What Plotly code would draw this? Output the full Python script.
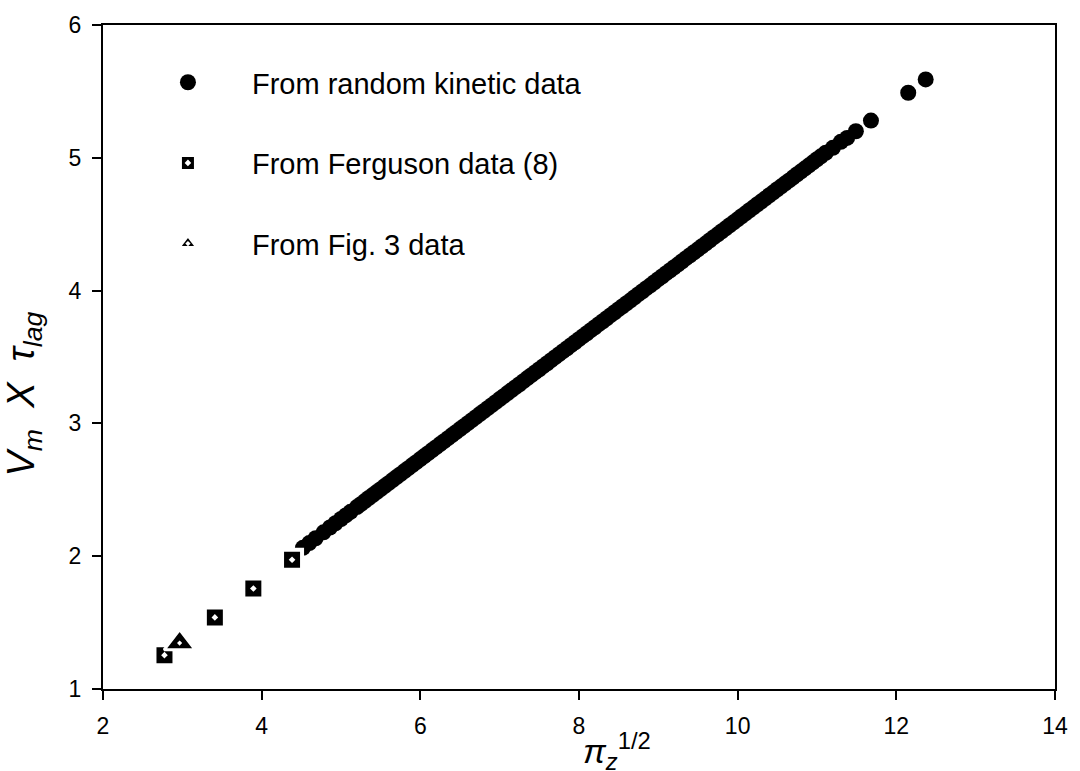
import plotly.graph_objects as go

# ---- data ----
kin_x = [4.52, 4.60, 4.68, 4.78, 4.86, 4.93, 5.00, 5.06, 5.12, 5.20,
         5.25, 5.30, 5.35, 5.40, 5.45, 5.50, 5.55, 5.60, 5.65, 5.70,
         5.75, 5.80, 5.85, 5.90, 5.95, 6.00, 6.05, 6.10, 6.15, 6.20,
         6.25, 6.30, 6.35, 6.40, 6.45, 6.50, 6.55, 6.60, 6.65, 6.70,
         6.75, 6.80, 6.85, 6.90, 6.95, 7.00, 7.05, 7.10, 7.15, 7.20,
         7.25, 7.30, 7.35, 7.40, 7.45, 7.50, 7.55, 7.60, 7.65, 7.70,
         7.75, 7.80, 7.85, 7.90, 7.95, 8.00, 8.05, 8.10, 8.15, 8.20,
         8.25, 8.30, 8.35, 8.40, 8.45, 8.50, 8.55, 8.60, 8.65, 8.70,
         8.75, 8.80, 8.85, 8.90, 8.95, 9.00, 9.05, 9.10, 9.15, 9.20,
         9.25, 9.30, 9.35, 9.40, 9.45, 9.50, 9.55, 9.60, 9.65, 9.70,
         9.75, 9.80, 9.85, 9.90, 9.95, 10.00, 10.05, 10.10, 10.15, 10.20,
         10.25, 10.30, 10.35, 10.40, 10.45, 10.50, 10.55, 10.60, 10.65, 10.70,
         10.75, 10.80, 10.85, 10.90, 10.95, 11.00, 11.05, 11.11, 11.20, 11.30,
         11.38, 11.49, 11.68, 12.15, 12.37]
kin_y = [2.063, 2.099, 2.135, 2.180, 2.216, 2.248, 2.280, 2.307, 2.334, 2.370,
         2.392, 2.415, 2.438, 2.460, 2.483, 2.505, 2.528, 2.550, 2.573, 2.596,
         2.618, 2.641, 2.663, 2.686, 2.708, 2.731, 2.754, 2.776, 2.799, 2.821,
         2.844, 2.866, 2.889, 2.912, 2.934, 2.957, 2.979, 3.002, 3.024, 3.047,
         3.070, 3.092, 3.115, 3.137, 3.160, 3.183, 3.205, 3.228, 3.250, 3.273,
         3.295, 3.318, 3.341, 3.363, 3.386, 3.408, 3.431, 3.453, 3.476, 3.499,
         3.521, 3.544, 3.566, 3.589, 3.611, 3.634, 3.657, 3.679, 3.702, 3.724,
         3.747, 3.769, 3.792, 3.815, 3.837, 3.860, 3.882, 3.905, 3.927, 3.950,
         3.973, 3.995, 4.018, 4.040, 4.063, 4.086, 4.108, 4.131, 4.153, 4.176,
         4.198, 4.221, 4.244, 4.266, 4.289, 4.311, 4.334, 4.356, 4.379, 4.402,
         4.424, 4.447, 4.469, 4.492, 4.514, 4.537, 4.560, 4.582, 4.605, 4.627,
         4.650, 4.672, 4.695, 4.718, 4.740, 4.763, 4.785, 4.808, 4.830, 4.853,
         4.876, 4.898, 4.921, 4.943, 4.966, 4.989, 5.011, 5.038, 5.075, 5.120,
         5.150, 5.200, 5.280, 5.490, 5.590]

ferg_x = [2.775, 3.41, 3.895, 4.383]
ferg_y = [1.255, 1.539, 1.757, 1.973]

fig3_x = [2.966]
fig3_y = [1.346]

names = ["From random kinetic data", "From Ferguson data (8)", "From Fig. 3 data"]
x_ticks = [2, 4, 6, 8, 10, 12, 14]
y_ticks = [1, 2, 3, 4, 5, 6]

FONT = "Arial, 'Liberation Sans', sans-serif"

fig = go.Figure()
fig.add_trace(go.Scatter(
    x=kin_x, y=kin_y, mode="markers", name=names[0], legendgroup="a",
    marker=dict(symbol="circle", size=16, color="black", line=dict(width=0))))
fig.add_trace(go.Scatter(
    x=ferg_x, y=ferg_y, mode="markers", name=names[1], legendgroup="b",
    marker=dict(symbol="square-dot", size=20, color="black",
                line=dict(width=4, color="white"))))
fig.add_trace(go.Scatter(
    x=fig3_x, y=fig3_y, mode="markers", name=names[2], legendgroup="c",
    marker=dict(symbol="triangle-up-dot", size=27, color="black",
                line=dict(width=3, color="white"))))

axis_common = dict(
    showgrid=False, zeroline=False, showline=True, linecolor="black",
    linewidth=2, mirror=True, ticks="outside", ticklen=9, tickwidth=2,
    tickcolor="black", tickfont=dict(family=FONT, size=23, color="black"),
    ticklabelstandoff=6,
)

fig.update_layout(
    width=1080, height=771,
    margin=dict(l=103, r=18, t=16, b=82),
    paper_bgcolor="white", plot_bgcolor="white",
    font=dict(family=FONT, color="black"),
    showlegend=True,
    legend=dict(
        x=0.022, y=0.952, xanchor="left", yanchor="top",
        font=dict(family=FONT, size=29, color="black"),
        bgcolor="rgba(0,0,0,0)", borderwidth=0,
        tracegroupgap=40, itemwidth=118,
    ),
    xaxis=dict(range=[2, 14], tickvals=x_ticks, **axis_common),
    yaxis=dict(range=[1, 6], tickvals=y_ticks, **axis_common),
)

fig.add_annotation(
    xref="paper", yref="paper", x=0.54, y=-0.093,
    xanchor="center", yanchor="middle", showarrow=False,
    text="<i>π</i><sub><i>z</i></sub><sup>1/2</sup>",
    font=dict(family=FONT, size=34, color="black"),
)
fig.add_annotation(
    xref="paper", yref="paper", x=-0.083, y=0.445,
    xanchor="center", yanchor="middle", showarrow=False, textangle=-90,
    text="<i>V<sub>m</sub>  X  τ<sub>lag</sub></i>",
    font=dict(family=FONT, size=38, color="black"),
)

fig.write_html("out.html")
